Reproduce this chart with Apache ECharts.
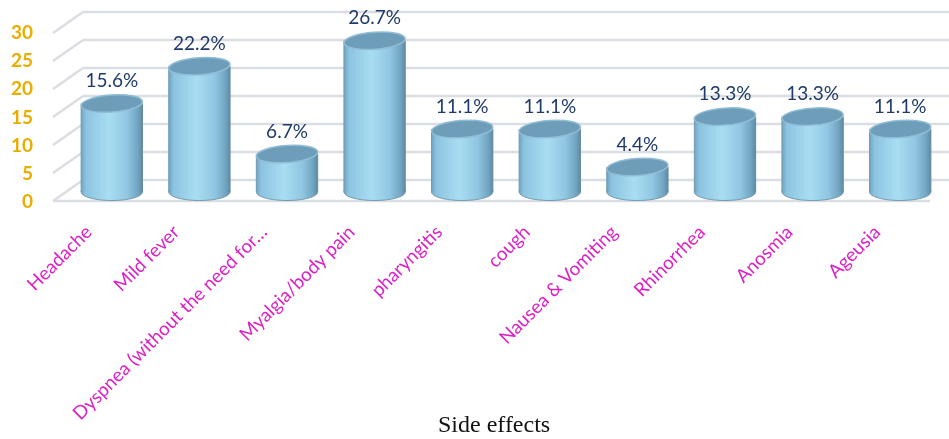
<!DOCTYPE html>
<html>
<head>
<meta charset="utf-8">
<script src="https://cdn.jsdelivr.net/npm/echarts@6/dist/echarts.min.js"></script>
<style>
html,body{margin:0;padding:0;background:#fff;}
#chart{width:949px;height:439px;}
</style>
</head>
<body>
<div id="chart"></div>
<script>
const categories = ['Headache', 'Mild fever', 'Dyspnea (without the need for…', 'Myalgia/body pain', 'pharyngitis', 'cough', 'Nausea & Vomiting', 'Rhinorrhea', 'Anosmia', 'Ageusia'];
const values = [15.6, 22.2, 6.7, 26.7, 11.1, 11.1, 4.4, 13.3, 13.3, 11.1];
const yTicks = [0, 5, 10, 15, 20, 25, 30];
const xTitle = 'Side effects';

const chart = echarts.init(document.getElementById('chart'));

const bodyGrad = () => new echarts.graphic.LinearGradient(0, 0, 1, 0, [
  {offset: 0, color: '#6fa4c2'},
  {offset: 0.08, color: '#8cc3df'},
  {offset: 0.45, color: '#a8ddf3'},
  {offset: 0.75, color: '#90c6e1'},
  {offset: 0.93, color: '#70a3bf'},
  {offset: 1, color: '#5e8aa3'}
]);

const option = {
  animation: false,
  title: {
    text: xTitle, left: 433, top: 409,
    textStyle: {fontFamily: 'Liberation Serif', fontSize: 24, fontWeight: 'normal', color: '#111'}
  },
  grid: [
    {left: 68, right: 5, top: 22, bottom: 247},
    {left: 52, right: 21, top: 33, bottom: 237},
    {left: 83, right: 0, top: 12, bottom: 259},
    {left: 45, right: 28, top: 33, bottom: 237}
  ],
  xAxis: [
    {type: 'category', gridIndex: 0, data: categories, show: false},
    {type: 'category', gridIndex: 1, data: categories, show: false},
    {type: 'category', gridIndex: 2, data: categories, show: false},
    {type: 'category', gridIndex: 3, data: categories,
      axisLine: {show: false}, axisTick: {show: false},
      axisLabel: {interval: 0, rotate: 45, margin: 27, color: '#dd1fc4', fontSize: 18.8, fontFamily: 'Lato'}}
  ],
  yAxis: [
    {type: 'value', gridIndex: 0, min: 0, max: 30, interval: 5, show: false},
    {type: 'value', gridIndex: 1, min: 0, max: 30, interval: 5,
      axisLine: {show: false}, axisTick: {show: false}, splitLine: {show: false},
      axisLabel: {margin: 19, color: '#e9ad00', fontSize: 19, fontWeight: 'bold', fontFamily: 'Lato'}},
    {type: 'value', gridIndex: 2, min: 0, max: 30, interval: 5, show: false},
    {type: 'value', gridIndex: 3, min: 0, max: 30, interval: 5, show: false}
  ],
  series: [
    {
      type: 'custom', xAxisIndex: 2, yAxisIndex: 2, silent: true, z: 1,
      data: yTicks.map(v => [0, v]),
      renderItem: function (params, api) {
        const cs = params.coordSys;
        const v = api.value(1);
        const p = api.coord([0, v]);
        const y = p[1];
        const x0 = cs.x, x1 = cs.x + cs.width;
        const style = {stroke: '#dadde2', lineWidth: 2.5, fill: null};
        const children = [
          {type: 'line', shape: {x1: x0, y1: y, x2: x1, y2: y}, style: style},
          {type: 'line', shape: {x1: x0 - 30, y1: y + 21, x2: x0, y2: y}, style: style}
        ];
        if (v === 0) {
          children.push({type: 'line', shape: {x1: x0 - 30, y1: y + 21, x2: x1 - 19, y2: y + 21}, style: style});
        }
        return {type: 'group', children: children};
      }
    },
    {
      type: 'custom', xAxisIndex: 0, yAxisIndex: 0, z: 5,
      data: values.map((v, i) => [i, v]),
      renderItem: function (params, api) {
        const idx = api.value(0), val = api.value(1);
        const top = api.coord([idx, val]);
        const base = api.coord([idx, 0]);
        const w = api.size([1, 0])[0] * 0.7;
        const rx = w / 2, ry = 8.5;
        const cx = top[0];
        return {
          type: 'group',
          children: [
            {type: 'ellipse', shape: {cx: cx, cy: base[1], rx: rx, ry: ry},
              style: {fill: bodyGrad(), stroke: '#7399ae', lineWidth: 1}},
            {type: 'rect', shape: {x: cx - rx, y: top[1], width: w, height: base[1] - top[1]},
              style: {fill: bodyGrad()}},
            {type: 'line', shape: {x1: cx - rx, y1: top[1], x2: cx - rx, y2: base[1]},
              style: {stroke: '#7399ae', lineWidth: 1}},
            {type: 'line', shape: {x1: cx + rx, y1: top[1], x2: cx + rx, y2: base[1]},
              style: {stroke: '#628ca4', lineWidth: 1}},
            {type: 'ellipse', shape: {cx: cx, cy: top[1], rx: rx, ry: ry},
              rotation: 0.07, originX: cx, originY: top[1],
              style: {fill: '#6d9db8', stroke: '#90bdd5', lineWidth: 1.5}},
            {type: 'text', x: cx, y: top[1] - ry - 14,
              style: {text: val.toFixed(1) + '%', align: 'center', verticalAlign: 'middle',
                fill: '#1f3a6a', fontSize: 19, fontFamily: 'Lato'}}
          ]
        };
      }
    }
  ]
};
chart.setOption(option);
</script>
</body>
</html>
